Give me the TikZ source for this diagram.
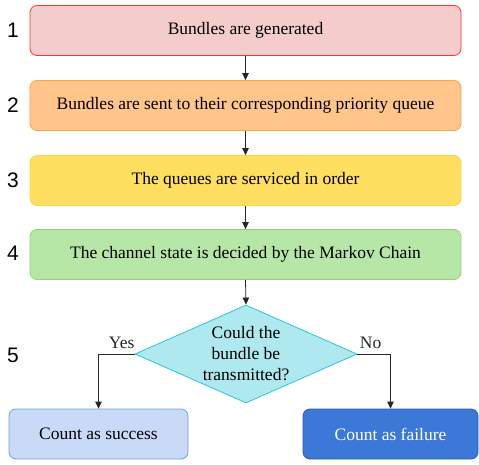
\documentclass[tikz,border=0pt]{standalone}
\usepackage{fontspec}
\setmainfont{Liberation Serif}
\newfontfamily\numfont{Liberation Sans}
\usepackage{xcolor}
\usetikzlibrary{arrows.meta, positioning, shapes.geometric}

\definecolor{genfill}{HTML}{F4CCCC}
\definecolor{gendraw}{HTML}{FF3333}
\definecolor{sendfill}{HTML}{FFC58A}
\definecolor{senddraw}{HTML}{F9A54C}
\definecolor{servfill}{HTML}{FFDF5F}
\definecolor{servdraw}{HTML}{FFD24D}
\definecolor{chanfill}{HTML}{B7E7A7}
\definecolor{chandraw}{HTML}{97D077}
\definecolor{decfill}{HTML}{AEE9F0}
\definecolor{decdraw}{HTML}{2CC6D9}
\definecolor{succfill}{HTML}{C9DAF8}
\definecolor{succdraw}{HTML}{6D9EEB}
\definecolor{failfill}{HTML}{3C78D8}
\definecolor{faildraw}{HTML}{2A5DB0}

\tikzset{
  stagebox/.style={draw, rounded corners=7pt, minimum height=50pt, inner sep=0pt, line width=0.8pt},
  stagenum/.style={font=\numfont\fontsize{21}{21}\selectfont},
  flow/.style={-{Triangle[length=7pt,width=6.5pt]}, line width=0.8pt, black!85}
}

\begin{document}
\begin{tikzpicture}[x=1pt, y=1pt, font=\fontsize{17.5}{21}\selectfont]
  \useasboundingbox (0,0) rectangle (479,464);
  % ---- stages 1 to 4 ----
  \node[stagebox, fill=genfill, draw=gendraw, minimum width=431pt] (gen) at (245.5,433.5) {Bundles are generated};
  \node[stagebox, fill=sendfill, draw=senddraw, minimum width=431pt] (send) at (245.5,358.5) {Bundles are sent to their corresponding priority queue};
  \node[stagebox, fill=servfill, draw=servdraw, minimum width=431pt] (serv) at (245.5,283.5) {The queues are serviced in order};
  \node[stagebox, fill=chanfill, draw=chandraw, minimum width=431pt] (chan) at (245.5,209.5) {The channel state is decided by the Markov Chain};
  % ---- stage 5: decision ----
  \node[diamond, aspect=2.3, draw=decdraw, fill=decfill, line width=0.8pt, inner sep=0pt,
        minimum width=222pt, minimum height=98pt, align=center] (dec) at (246,110)
        {Could the\\bundle be\\transmitted?};
  \node[stagebox, fill=succfill, draw=succdraw, minimum width=179pt] (succ) at (98.5,30) {Count as success};
  \node[stagebox, fill=failfill, draw=faildraw, minimum width=175pt, text=white] (fail) at (390.5,30) {Count as failure};
  % ---- step numbers ----
  \node[stagenum] (n1) at (13,433.5) {1};
  \node[stagenum] (n2) at (13,358.5) {2};
  \node[stagenum] (n3) at (13,283.5) {3};
  \node[stagenum] (n4) at (13,210.5) {4};
  \node[stagenum] (n5) at (13,109) {5};
  % ---- connectors ----
  \draw[flow] (gen) -- (send);
  \draw[flow] (send) -- (serv);
  \draw[flow] (serv) -- (chan);
  \draw[flow] (chan.south) -- (dec.north);
  \draw[flow] (dec.west) -| node[pos=0.18, above=2pt] {Yes} (succ.north);
  \draw[flow] (dec.east) -| node[pos=0.2, above=2pt] {No} (fail.north);
\end{tikzpicture}
\end{document}
